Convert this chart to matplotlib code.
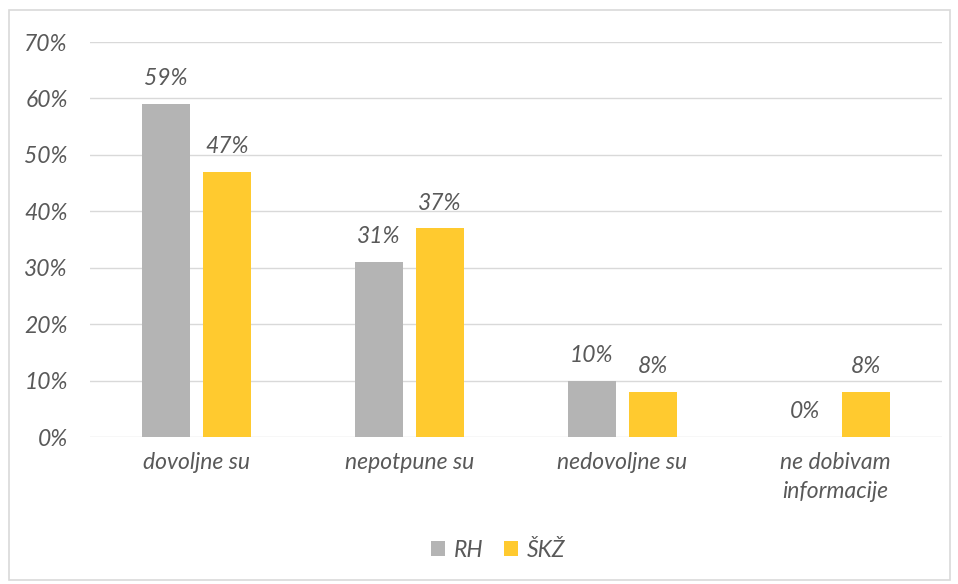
import matplotlib.pyplot as plt
import numpy as np
from matplotlib.patches import Rectangle

categories = ['dovoljne su', 'nepotpune su', 'nedovoljne su', 'ne dobivam\ninformacije']
rh = [59, 31, 10, 0]
skz = [47, 37, 8, 8]
series_names = ['RH', 'ŠKŽ']

plt.rcParams['font.family'] = ['Lato', 'DejaVu Sans']
txt = '#595959'
fs = 16.5

fig = plt.figure(figsize=(9.58, 5.84), dpi=100)
ax = fig.add_axes([0.094, 0.2517, 0.889, 0.6763])

x = np.arange(len(categories))
w = 0.225
off = 0.143
b1 = ax.bar(x - off, rh, w, color='#b4b4b4', label=series_names[0], zorder=3)
b2 = ax.bar(x + off, skz, w, color='#ffca2f', label=series_names[1], zorder=3)

for bars in (b1, b2):
    for r in bars:
        h = r.get_height()
        ax.text(r.get_x() + r.get_width() / 2, h + 2.6, f'{h:.0f}%', ha='center', va='bottom',
                fontsize=fs, style='italic', color=txt)

ax.set_xlim(-0.5, 3.5)
ax.set_ylim(0, 70)
ax.set_yticks(range(0, 71, 10))
ax.set_yticklabels([f'{v}%' for v in range(0, 71, 10)], fontsize=fs, style='italic', color=txt)
ax.set_xticks(x)
ax.set_xticklabels(categories, fontsize=fs, style='italic', color=txt, linespacing=1.45)
ax.tick_params(axis='both', length=0)
ax.tick_params(axis='y', pad=16)
ax.tick_params(axis='x', pad=11)
ax.yaxis.grid(True, color='#d9d9d9', linewidth=1, zorder=0)
for s in ax.spines.values():
    s.set_visible(False)

leg = fig.legend(loc='center', bbox_to_anchor=(0.52, 0.058), ncol=2, frameon=False,
                 prop={'size': fs, 'style': 'italic'}, handlelength=0.6, handleheight=0.6,
                 handletextpad=0.4, columnspacing=0.9)
for t in leg.get_texts():
    t.set_color(txt)

fig.patches.append(Rectangle((9 / 958, 4 / 584), 941 / 958, 570 / 584, transform=fig.transFigure,
                             fill=False, edgecolor='#d9d9d9', linewidth=1.2))

fig.savefig('out.png', dpi=100)
